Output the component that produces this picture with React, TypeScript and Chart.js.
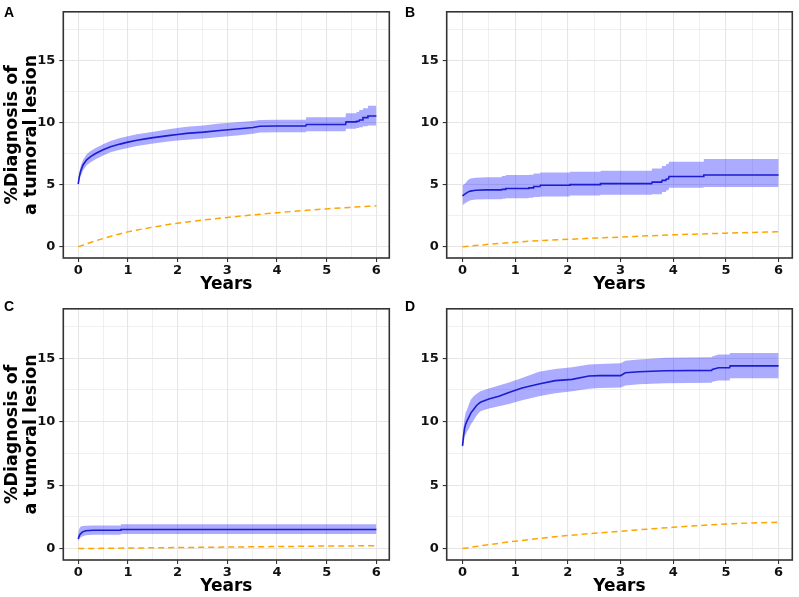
import React, { useEffect, useRef } from 'react';
import { Chart, registerables } from 'chart.js';
Chart.register(...registerables);

// ---------- tick values ----------
const xTickValues = [0, 0.5, 1, 1.5, 2, 2.5, 3, 3.5, 4, 4.5, 5, 5.5, 6];
const yTickValues = [0, 2.5, 5, 7.5, 10, 12.5, 15, 17.5];

// ---------- panel A (observed cumulative incidence, 95% band) ----------
const timesA = [0, 0.02, 0.05, 0.1, 0.17, 0.25, 0.35, 0.5, 0.65, 0.84, 1.0, 1.18, 1.35, 1.51, 1.7, 1.85, 2.0, 2.18, 2.52, 2.85, 3.19, 3.52, 3.65, 4.0, 4.58, 4.59, 5.38, 5.39, 5.59, 5.6, 5.65, 5.66, 5.72, 5.73, 5.82, 5.83, 6.0];
const estA = [5.05, 5.6, 6.1, 6.6, 7.0, 7.25, 7.5, 7.8, 8.05, 8.26, 8.42, 8.57, 8.68, 8.78, 8.88, 8.96, 9.03, 9.12, 9.22, 9.35, 9.48, 9.6, 9.69, 9.72, 9.72, 9.84, 9.84, 10.05, 10.05, 10.1, 10.1, 10.2, 10.2, 10.39, 10.39, 10.52, 10.52];
const lowA = [4.95, 5.3, 5.7, 6.15, 6.55, 6.8, 7.05, 7.35, 7.6, 7.8, 7.95, 8.1, 8.2, 8.3, 8.4, 8.48, 8.55, 8.62, 8.72, 8.83, 8.95, 9.1, 9.2, 9.22, 9.22, 9.3, 9.3, 9.5, 9.5, 9.55, 9.55, 9.62, 9.62, 9.7, 9.7, 9.75, 9.75];
const highA = [5.15, 5.9, 6.5, 7.0, 7.45, 7.7, 7.95, 8.25, 8.5, 8.75, 8.9, 9.05, 9.15, 9.25, 9.38, 9.48, 9.55, 9.65, 9.75, 9.92, 10.02, 10.12, 10.2, 10.22, 10.22, 10.42, 10.42, 10.75, 10.75, 10.85, 10.85, 11.0, 11.0, 11.15, 11.15, 11.35, 11.35];

// ---------- panel B ----------
const timesB = [0, 0.05, 0.1, 0.15, 0.25, 0.45, 0.74, 0.75, 0.81, 0.82, 1.25, 1.26, 1.34, 1.35, 1.47, 1.48, 2.03, 2.04, 2.61, 2.62, 3.59, 3.6, 3.78, 3.79, 3.86, 3.87, 3.91, 3.92, 4.57, 4.58, 6.0];
const estB = [4.09, 4.25, 4.4, 4.48, 4.55, 4.58, 4.58, 4.62, 4.62, 4.69, 4.69, 4.74, 4.74, 4.85, 4.85, 4.95, 4.95, 5.0, 5.0, 5.08, 5.08, 5.2, 5.2, 5.34, 5.34, 5.45, 5.45, 5.65, 5.65, 5.78, 5.78];
const lowB = [3.35, 3.5, 3.65, 3.75, 3.8, 3.82, 3.82, 3.86, 3.86, 3.9, 3.9, 3.95, 3.95, 4.0, 4.0, 4.05, 4.05, 4.12, 4.12, 4.18, 4.18, 4.22, 4.22, 4.4, 4.4, 4.55, 4.55, 4.74, 4.74, 4.82, 4.82];
const highB = [4.95, 5.1, 5.35, 5.5, 5.55, 5.6, 5.6, 5.7, 5.7, 5.78, 5.78, 5.8, 5.8, 5.9, 5.9, 5.98, 5.98, 6.04, 6.04, 6.12, 6.12, 6.3, 6.3, 6.5, 6.5, 6.65, 6.65, 6.84, 6.84, 7.07, 7.07];

// ---------- panel C ----------
const timesC = [0, 0.02, 0.04, 0.08, 0.15, 0.3, 0.85, 0.86, 6.0];
const estC = [0.75, 1.0, 1.14, 1.3, 1.4, 1.45, 1.45, 1.5, 1.5];
const lowC = [0.6, 0.75, 0.85, 0.95, 1.05, 1.1, 1.1, 1.15, 1.15];
const highC = [1.2, 1.55, 1.7, 1.78, 1.8, 1.82, 1.82, 1.92, 1.92];

// ---------- panel D ----------
const timesD = [0, 0.02, 0.04, 0.06, 0.09, 0.12, 0.16, 0.21, 0.27, 0.34, 0.5, 0.69, 0.88, 1.13, 1.45, 1.76, 2.08, 2.4, 2.6, 3.0, 3.09, 3.35, 3.85, 4.73, 4.74, 4.86, 5.07, 5.08, 6.0];
const estD = [8.1, 8.9, 9.5, 9.8, 10.1, 10.35, 10.7, 10.97, 11.3, 11.53, 11.79, 12.0, 12.31, 12.65, 12.98, 13.24, 13.34, 13.6, 13.63, 13.63, 13.86, 13.94, 14.02, 14.05, 14.12, 14.25, 14.25, 14.4, 14.4];
const lowD = [7.8, 8.3, 8.8, 9.0, 9.25, 9.45, 9.8, 10.1, 10.5, 10.83, 11.05, 11.22, 11.4, 11.7, 12.0, 12.25, 12.4, 12.6, 12.65, 12.7, 12.85, 12.95, 13.03, 13.08, 13.15, 13.25, 13.25, 13.42, 13.42];
const highD = [8.5, 9.6, 10.3, 10.7, 11.0, 11.35, 11.75, 12.0, 12.2, 12.4, 12.62, 12.85, 13.1, 13.45, 13.94, 14.15, 14.3, 14.5, 14.55, 14.6, 14.8, 14.9, 15.05, 15.08, 15.15, 15.3, 15.3, 15.41, 15.41];

// ---------- expected (orange dashed) ----------
const expTimes = [0, 0.25, 0.5, 0.75, 1, 1.5, 2, 2.5, 3, 3.5, 4, 4.5, 5, 5.5, 6];
const expA = [0, 0.35, 0.66, 0.95, 1.2, 1.58, 1.9, 2.15, 2.36, 2.56, 2.74, 2.9, 3.05, 3.18, 3.3];
const expB = [0, 0.1, 0.2, 0.29, 0.37, 0.5, 0.6, 0.7, 0.78, 0.88, 0.96, 1.03, 1.1, 1.16, 1.21];
const expC = [0, 0.01, 0.02, 0.03, 0.04, 0.06, 0.08, 0.1, 0.12, 0.14, 0.16, 0.18, 0.2, 0.21, 0.23];
const expD = [0, 0.16, 0.31, 0.45, 0.58, 0.82, 1.03, 1.21, 1.37, 1.53, 1.68, 1.82, 1.94, 2.02, 2.08];

const yTitleLines = ['%Diagnosis of', 'a tumoral lesion'];
const xTitle = 'Years';

const FONT = "'DejaVu Sans', sans-serif";

const pts = (xs: number[], ys: number[]) => xs.map((x, i) => ({ x, y: ys[i] }));

type PanelProps = {
  letter: string;
  times: number[];
  est: number[];
  low: number[];
  high: number[];
  expVals: number[];
  showYTitle: boolean;
  left: number;
  top: number;
  width: number;
  height: number;
  padRight: number;
  padTop: number;
  yAxisWidth: number;
  xAxisHeight: number;
  xTitlePadBottom: number;
  letterX: number;
  letterY: number;
};

function Panel(p: PanelProps) {
  const ref = useRef<HTMLCanvasElement | null>(null);
  useEffect(() => {
    if (!ref.current) return;
    const framePlugin = {
      id: 'frame' + p.letter,
      afterDraw(chart: any) {
        const { ctx, chartArea } = chart;
        ctx.save();
        ctx.strokeStyle = '#333333';
        ctx.lineWidth = 1.6;
        ctx.strokeRect(chartArea.left, chartArea.top, chartArea.right - chartArea.left, chartArea.bottom - chartArea.top);
        ctx.fillStyle = '#000';
        ctx.font = "bold 14px 'Liberation Sans', Arial, sans-serif";
        ctx.textBaseline = 'alphabetic';
        ctx.textAlign = 'left';
        ctx.fillText(p.letter, p.letterX, p.letterY);
        ctx.restore();
      },
    };
    const chart = new Chart(ref.current, {
      type: 'line',
      data: {
        datasets: [
          {
            data: pts(p.times, p.est),
            borderColor: '#1c1cd0',
            borderWidth: 1.6,
            pointRadius: 0,
            tension: 0,
            fill: false,
          },
          {
            data: pts(expTimes, p.expVals),
            borderColor: '#ffa500',
            borderWidth: 1.5,
            borderDash: [6, 4],
            pointRadius: 0,
            cubicInterpolationMode: 'monotone',
            fill: false,
          },
          {
            data: pts(p.times, p.high),
            borderColor: 'rgba(0,0,0,0)',
            borderWidth: 0,
            backgroundColor: 'rgba(0,0,255,0.33)',
            pointRadius: 0,
            tension: 0,
            fill: '+1',
          },
          {
            data: pts(p.times, p.low),
            borderColor: 'rgba(0,0,0,0)',
            borderWidth: 0,
            pointRadius: 0,
            tension: 0,
            fill: false,
          },
        ],
      } as any,
      options: {
        animation: false,
        responsive: false,
        devicePixelRatio: 1,
        events: [],
        layout: { padding: { left: 0, right: p.padRight, top: p.padTop, bottom: 0 } },
        plugins: { legend: { display: false }, tooltip: { enabled: false } },
        scales: {
          x: {
            type: 'linear',
            min: -0.3,
            max: 6.26,
            afterBuildTicks: (s: any) => {
              s.ticks = xTickValues.map((v) => ({ value: v }));
            },
            afterFit: (s: any) => {
              s.height = p.xAxisHeight;
            },
            border: { display: false },
            grid: {
              color: '#e6e6e6',
              lineWidth: (c: any) => (c.tick && Number.isInteger(c.tick.value) ? 1.1 : 0.6),
              tickColor: (c: any) => (c.tick && Number.isInteger(c.tick.value) ? '#333333' : 'rgba(0,0,0,0)'),
              tickLength: 4,
              tickWidth: 1.1,
            },
            ticks: {
              autoSkip: false,
              maxRotation: 0,
              padding: 1,
              color: '#111',
              font: { family: FONT, size: 13, weight: 'bold' },
              callback: (v: any) => (Number.isInteger(v) ? String(v) : ''),
            },
            title: {
              display: true,
              text: xTitle,
              color: '#000',
              font: { family: FONT, size: 17, weight: 'bold', lineHeight: '20px' },
              padding: { top: 0, bottom: p.xTitlePadBottom },
            },
          },
          y: {
            type: 'linear',
            min: -0.9,
            max: 18.9,
            afterBuildTicks: (s: any) => {
              s.ticks = yTickValues.map((v) => ({ value: v }));
            },
            afterFit: (s: any) => {
              s.width = p.yAxisWidth;
            },
            border: { display: false },
            grid: {
              color: '#e6e6e6',
              lineWidth: (c: any) => (c.tick && c.tick.value % 5 === 0 ? 1.1 : 0.6),
              tickColor: (c: any) => (c.tick && c.tick.value % 5 === 0 ? '#333333' : 'rgba(0,0,0,0)'),
              tickLength: 4,
              tickWidth: 1.1,
            },
            ticks: {
              autoSkip: false,
              padding: 4,
              color: '#111',
              font: { family: FONT, size: 13, weight: 'bold' },
              callback: (v: any) => (v % 5 === 0 ? String(v) : ''),
            },
            title: {
              display: p.showYTitle,
              text: yTitleLines,
              color: '#000',
              font: { family: FONT, size: 17.5, weight: 'bold', lineHeight: '19px' },
              padding: { top: 2.5, bottom: 0 },
            },
          },
        },
      } as any,
      plugins: [framePlugin],
    });
    return () => chart.destroy();
  }, []);
  return (
    <canvas
      ref={ref}
      width={p.width}
      height={p.height}
      style={{ position: 'absolute', left: p.left, top: p.top, width: p.width, height: p.height, display: 'block' }}
    />
  );
}

export default function App() {
  return (
    <div style={{ position: 'absolute', left: 0, top: 0, width: 799, height: 597, background: '#fff', overflow: 'hidden' }}>
      <Panel letter="A" times={timesA} est={estA} low={lowA} high={highA} expVals={expA} showYTitle={true}
        left={0} top={0} width={400} height={297} padRight={10.7} padTop={3} yAxisWidth={63.3} xAxisHeight={39}
        xTitlePadBottom={2} letterX={4} letterY={17} />
      <Panel letter="B" times={timesB} est={estB} low={lowB} high={highB} expVals={expB} showYTitle={false}
        left={400} top={0} width={399} height={297} padRight={6.7} padTop={3} yAxisWidth={46.7} xAxisHeight={39}
        xTitlePadBottom={2} letterX={5} letterY={17} />
      <Panel letter="C" times={timesC} est={estC} low={lowC} high={highC} expVals={expC} showYTitle={true}
        left={0} top={297} width={400} height={300} padRight={10.7} padTop={7} yAxisWidth={63.3} xAxisHeight={37}
        xTitlePadBottom={0} letterX={4} letterY={13.5} />
      <Panel letter="D" times={timesD} est={estD} low={lowD} high={highD} expVals={expD} showYTitle={false}
        left={400} top={297} width={399} height={300} padRight={6.7} padTop={7} yAxisWidth={46.7} xAxisHeight={37}
        xTitlePadBottom={0} letterX={5} letterY={13.5} />
    </div>
  );
}
